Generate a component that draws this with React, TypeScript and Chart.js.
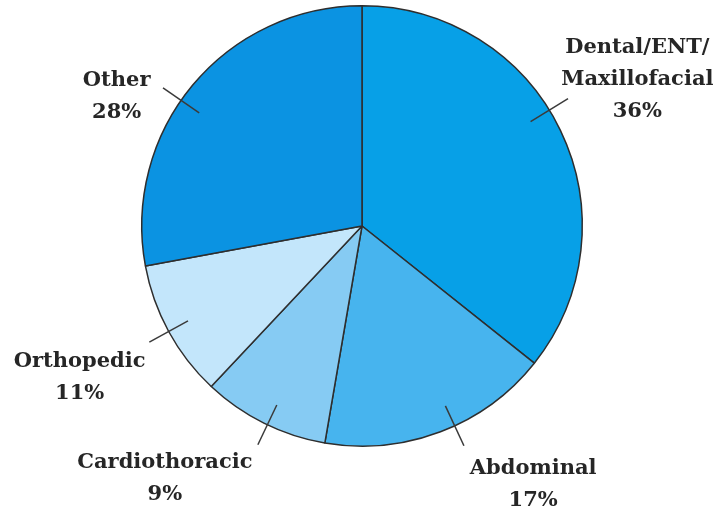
import React, { useEffect, useRef } from "react";
import { Chart, registerables } from "chart.js";

Chart.register(...registerables);

const categories = ["Dental/ENT/\nMaxillofacial", "Abdominal", "Cardiothoracic", "Orthopedic", "Other"];
const shares = [35.7, 17.0, 9.3, 10.1, 27.9];
const percentLabels = ["36%", "17%", "9%", "11%", "28%"];
const sliceColors = ["#07a0e7", "#47b4ee", "#86cbf3", "#c3e6fb", "#0b93e2"];
// label block anchors in units of radius, relative to pie centre (first-line baseline)
const labelAnchors: [number, number][] = [
  [1.25, -0.786],
  [0.777, 1.127],
  [-0.895, 1.1],
  [-1.282, 0.641],
  [-1.114, -0.636],
];
// leader-line angular shift from slice middle, degrees
const leaderShift = [-6, -4, -1, 0, -5];

const labelPlugin = {
  id: "pieLabels",
  afterDraw(chart: any) {
    const meta = chart.getDatasetMeta(0);
    const ctx = chart.ctx as CanvasRenderingContext2D;
    ctx.save();
    meta.data.forEach((arc: any, i: number) => {
      const { x, y, startAngle, endAngle, outerRadius } = arc.getProps(
        ["x", "y", "startAngle", "endAngle", "outerRadius"],
        true
      );
      const mid = (startAngle + endAngle) / 2 + (leaderShift[i] * Math.PI) / 180;
      const c = Math.cos(mid);
      const s = Math.sin(mid);
      ctx.beginPath();
      ctx.strokeStyle = "#3a3a3a";
      ctx.lineWidth = 1.5;
      ctx.moveTo(x + c * outerRadius * 0.9, y + s * outerRadius * 0.9);
      ctx.lineTo(x + c * outerRadius * 1.1, y + s * outerRadius * 1.1);
      ctx.stroke();

      const [ox, oy] = labelAnchors[i];
      const lx = x + ox * outerRadius;
      const ly = y + oy * outerRadius;
      const lines = categories[i].split("\n").concat([percentLabels[i]]);
      ctx.fillStyle = "#262626";
      ctx.font = "bold 21px 'DejaVu Serif'";
      ctx.textAlign = "center";
      ctx.textBaseline = "alphabetic";
      lines.forEach((t, k) => ctx.fillText(t, lx, ly + k * 32));
    });
    ctx.restore();
  },
};

export default function App() {
  const ref = useRef<HTMLCanvasElement | null>(null);
  useEffect(() => {
    document.body.style.margin = "0";
    const chart = new Chart(ref.current as HTMLCanvasElement, {
      type: "pie",
      data: {
        labels: categories,
        datasets: [
          {
            data: shares,
            backgroundColor: sliceColors,
            borderColor: "#2e2e2e",
            borderWidth: 1.5,
          },
        ],
      },
      options: {
        animation: false,
        responsive: false,
        layout: { padding: { left: 141, right: 134, top: 5, bottom: 63 } },
        plugins: { legend: { display: false }, tooltip: { enabled: false } },
      },
      plugins: [labelPlugin],
    });
    return () => chart.destroy();
  }, []);
  return (
    <div style={{ width: 717, height: 510, background: "#fff" }}>
      <canvas ref={ref} width={717} height={510} style={{ width: 717, height: 510, display: "block" }} />
    </div>
  );
}
